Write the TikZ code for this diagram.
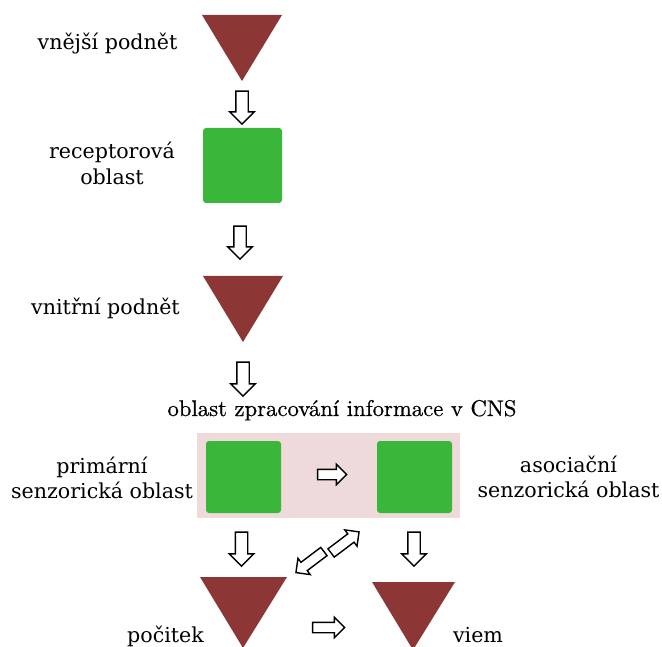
\documentclass[tikz,border=0pt]{standalone}
\usepackage{fontspec}
\newfontfamily\dser{DejaVu Serif}
\newfontfamily\ttlf{lmroman10-regular}[Extension=.otf,FakeBold=0.6]
\usetikzlibrary{shapes.arrows}
\definecolor{tri}{RGB}{140,54,54}
\definecolor{grn}{RGB}{58,182,58}
\definecolor{pnk}{RGB}{238,218,218}
\tikzset{
  lab/.style={anchor=base,inner sep=0pt,font=\dser\fontsize{20.6}{26}\selectfont},
  ttl/.style={anchor=base,inner sep=0pt,font=\ttlf\fontsize{22.7}{26}\selectfont},
  blk/.style={single arrow,draw=black,fill=white,line width=1.4pt,inner xsep=0pt,inner ysep=5.5pt,single arrow head extend=6pt,minimum height=33pt},
  blks/.style={blk,inner ysep=4.5pt,single arrow head extend=5pt},
  sq/.style={fill=grn,rounded corners=3pt},
  tr/.style={fill=tri}
}
\begin{document}
\begin{tikzpicture}[x=1pt,y=-1pt]
\useasboundingbox (0,0) rectangle (662,647);
% pink background
\fill[pnk] (197,433) rectangle (460,518);
% triangles
\fill[tr] (202,15) -- (282,15) -- (242,81) -- cycle;
\fill[tr] (203,276) -- (283,276) -- (243,342) -- cycle;
\fill[tr] (200,577) -- (287,577) -- (243,648) -- cycle;
\fill[tr] (372,582) -- (455,582) -- (413,650) -- cycle;
% green squares
\fill[sq] (203,128) rectangle (282,203);
\fill[sq] (206,441) rectangle (281,513);
\fill[sq] (377,441) rectangle (452,513);
% arrows
\node[blk,rotate=-90] (a1) at (242,104.5) {};
\node[blk,rotate=-90] (a2) at (240,239.5) {};
\node[blk,rotate=-90,minimum height=34pt] (a3) at (243,376) {};
\node[blk,rotate=-90,minimum height=34pt] (a4) at (241.5,546) {};
\node[blk,rotate=-90,minimum height=34pt] (a5) at (414,546) {};
\node[blks,minimum height=29pt] (a6) at (329.5,474.5) {};
\node[blks,minimum height=32pt] (a7) at (326,627.5) {};
\node[blks,rotate=217,minimum height=35pt] (a8) at (312,560.5) {};
\node[blks,rotate=37,minimum height=35pt] (a9) at (343,544) {};
% labels
\node[lab] (l1) at (107.5,50) {vnější podnět};
\node[lab] (l2) at (112,159) {receptorová};
\node[lab] (l2b) at (112,185) {oblast};
\node[lab] (l3) at (105.5,315) {vnitřní podnět};
\node[ttl] (t) at (342,416) {oblast zpracování informace v CNS};
\node[lab] (l4) at (102,473) {primární};
\node[lab] (l4b) at (102,498) {senzorická oblast};
\node[lab] (l5) at (568.5,472) {asociační};
\node[lab] (l5b) at (568.5,497) {senzorická oblast};
\node[lab] (l6) at (165.5,642) {počitek};
\node[lab] (l7) at (478,642) {viem};
\end{tikzpicture}
\end{document}
